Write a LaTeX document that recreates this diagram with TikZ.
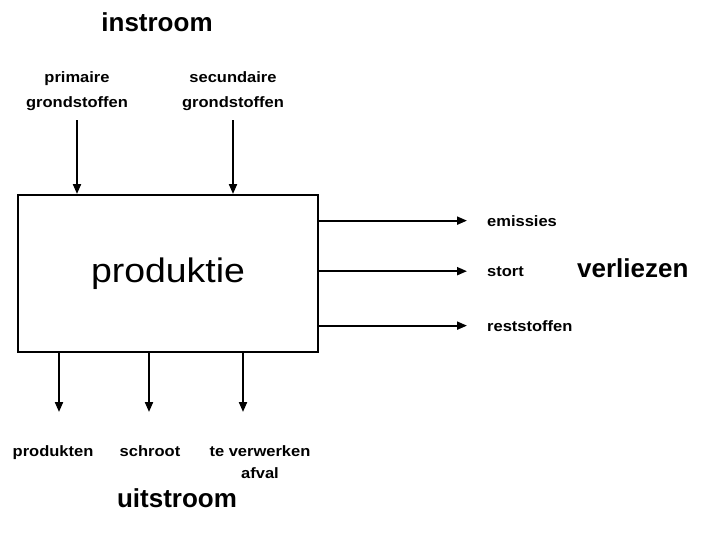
\documentclass[tikz,border=0pt]{standalone}
\usepackage{fontspec}
\setmainfont{Liberation Sans}
\newfontfamily\widefont{Liberation Sans}[FakeStretch=1.1]
\usetikzlibrary{arrows.meta}
\begin{document}
\begin{tikzpicture}[x=1pt,y=-1pt,
  lbl/.style={font=\widefont\bfseries\fontsize{15}{18}\selectfont, inner sep=0pt, anchor=base},
  head/.style={font=\bfseries\fontsize{26}{30}\selectfont, inner sep=0pt, anchor=base},
  flow/.style={line width=2pt, -{Triangle[length=10pt,width=8pt]}},
  procbox/.style={draw, line width=2pt, minimum width=300pt, minimum height=157pt,
    inner sep=0pt, font=\widefont\fontsize{34}{40}\selectfont}]
  \fill[white] (0,0) rectangle (708,543);
  \useasboundingbox (0,0) rectangle (708,543);

  % central process
  \node[procbox] (box) at (168,273.5) {produktie};

  % inflow
  \node[head] (in) at (157,32) {instroom};
  \node[lbl] (pg1) at (77,82) {primaire};
  \node[lbl] (pg2) at (77,107) {grondstoffen};
  \node[lbl] (sg1) at (233,82) {secundaire};
  \node[lbl] (sg2) at (233,107) {grondstoffen};
  \draw[flow, shorten <=10pt] (pg2.south) -- (pg2.south |- box.north);
  \draw[flow, shorten <=10pt] (sg2.south) -- (sg2.south |- box.north);

  % losses
  \coordinate (rt) at (467,0);
  \node[lbl, anchor=base west] (em) at (487,226) {emissies};
  \node[lbl, anchor=base west] (st) at (487,276) {stort};
  \node[lbl, anchor=base west] (rs) at (487,331) {reststoffen};
  \node[head, anchor=base west] (loss) at (577,277) {verliezen};
  \draw[flow] (box.east |- em.west) -- (rt |- em.west);
  \draw[flow] (box.east |- st.west) -- (rt |- st.west);
  \draw[flow] (box.east |- rs.west) -- (rt |- rs.west);

  % outflow
  \coordinate (b1) at (59,412);
  \coordinate (b2) at (149,412);
  \coordinate (b3) at (243,412);
  \draw[flow] (box.south -| b1) -- (b1);
  \draw[flow] (box.south -| b2) -- (b2);
  \draw[flow] (box.south -| b3) -- (b3);
  \node[lbl] (pr) at (53,456) {produkten};
  \node[lbl] (sc) at (150,456) {schroot};
  \node[lbl] (tv1) at (260,456) {te verwerken};
  \node[lbl] (tv2) at (260,478) {afval};
  \node[head] (out) at (177,507) {uitstroom};
\end{tikzpicture}
\end{document}
